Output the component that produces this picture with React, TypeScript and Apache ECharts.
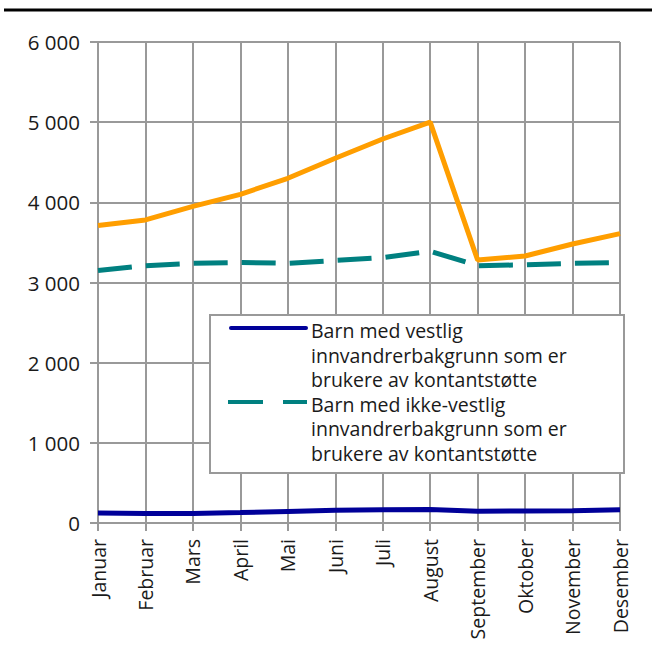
import React, { useEffect, useRef } from "react";
import * as echarts from "echarts";

const months = ["Januar", "Februar", "Mars", "April", "Mai", "Juni", "Juli", "August", "September", "Oktober", "November", "Desember"];
const seriesNames = [
  "Barn med vestlig\ninnvandrerbakgrunn som er\nbrukere av kontantstøtte",
  "Barn med ikke-vestlig\ninnvandrerbakgrunn som er\nbrukere av kontantstøtte",
  "Barn uten innvandrerbakgrunn som er\nbrukere av kontantstøtte",
];
const vestlig = [125, 120, 120, 130, 145, 158, 165, 168, 146, 150, 152, 166];
const ikkeVestlig = [3150, 3210, 3240, 3250, 3240, 3275, 3310, 3390, 3210, 3220, 3240, 3250];
const utenInnvandrer = [3710, 3780, 3950, 4100, 4300, 4550, 4790, 5000, 3280, 3330, 3480, 3610];
const yTicks = [0, 1000, 2000, 3000, 4000, 5000, 6000];

const colors = ["#000099", "#008080", "#ff9e00"];
const FONT = "Open Sans";
const GRID = "#999999";
const TEXT = "#1a1a1a";

export default function App() {
  const ref = useRef<HTMLDivElement>(null);
  useEffect(() => {
    if (!ref.current) return;
    const chart = echarts.init(ref.current, undefined, { renderer: "svg" });
    const fmt = (v: number) => String(v).replace(/\B(?=(\d{3})+(?!\d))/g, " ");
    const legendText = (name: string, top: number) => ({
      type: "text",
      z: 102,
      x: 311,
      y: top,
      style: {
        text: name, font: `19.5px "${FONT}"`, fill: TEXT,
        verticalAlign: "top", align: "left", lineHeight: 24.5,
      },
    });
    chart.setOption({
      animation: false,
      backgroundColor: "#ffffff",
      textStyle: { fontFamily: FONT },
      grid: { left: 98, right: 32, top: 42, bottom: 128, containLabel: false },
      xAxis: {
        type: "category",
        data: months,
        boundaryGap: false,
        axisLine: { lineStyle: { color: GRID, width: 2 } },
        axisTick: { show: true, length: 8, lineStyle: { color: GRID, width: 2 } },
        splitLine: { show: true, lineStyle: { color: GRID, width: 2 } },
        axisLabel: { rotate: 90, fontSize: 19.5, color: TEXT, fontFamily: FONT, margin: 16, interval: 0 },
      },
      yAxis: {
        type: "value",
        min: yTicks[0],
        max: yTicks[yTicks.length - 1],
        interval: 1000,
        axisLine: { show: true, lineStyle: { color: GRID, width: 2 } },
        axisTick: { show: true, length: 8, lineStyle: { color: GRID, width: 2 } },
        splitLine: { show: true, lineStyle: { color: GRID, width: 2 } },
        axisLabel: { fontSize: 20.5, color: TEXT, fontFamily: FONT, margin: 18, formatter: fmt },
      },
      series: [
        {
          name: seriesNames[0], type: "line", data: vestlig, showSymbol: false, z: 3,
          lineStyle: { color: colors[0], width: 5 }, itemStyle: { color: colors[0] },
        },
        {
          name: seriesNames[1], type: "line", data: ikkeVestlig, showSymbol: false, z: 3,
          lineStyle: { color: colors[1], width: 5, type: [34, 14] }, itemStyle: { color: colors[1] },
        },
        {
          name: seriesNames[2], type: "line", data: utenInnvandrer, showSymbol: false, z: 3,
          lineStyle: { color: colors[2], width: 5 }, itemStyle: { color: colors[2] },
        },
      ],
      graphic: [
        {
          type: "line", z: 100,
          shape: { x1: 4, y1: 10, x2: 652, y2: 10 },
          style: { stroke: "#000000", lineWidth: 3 },
        },
        {
          type: "rect", z: 100,
          shape: { x: 210, y: 315, width: 414, height: 158 },
          style: { fill: "#ffffff", stroke: GRID, lineWidth: 2 },
        },
        {
          type: "line", z: 101,
          shape: { x1: 231, y1: 328, x2: 306, y2: 328 },
          style: { stroke: colors[0], lineWidth: 4, lineCap: "round" },
        },
        {
          type: "line", z: 101,
          shape: { x1: 228, y1: 402, x2: 307, y2: 402 },
          style: { stroke: colors[1], lineWidth: 4, lineDash: [35, 20] },
        },
        legendText(seriesNames[0], 318.5),
        legendText(seriesNames[1], 392),
      ],
    });
    return () => chart.dispose();
  }, []);
  return <div ref={ref} style={{ position: "absolute", left: 0, top: 0, width: 652, height: 651 }} />;
}
